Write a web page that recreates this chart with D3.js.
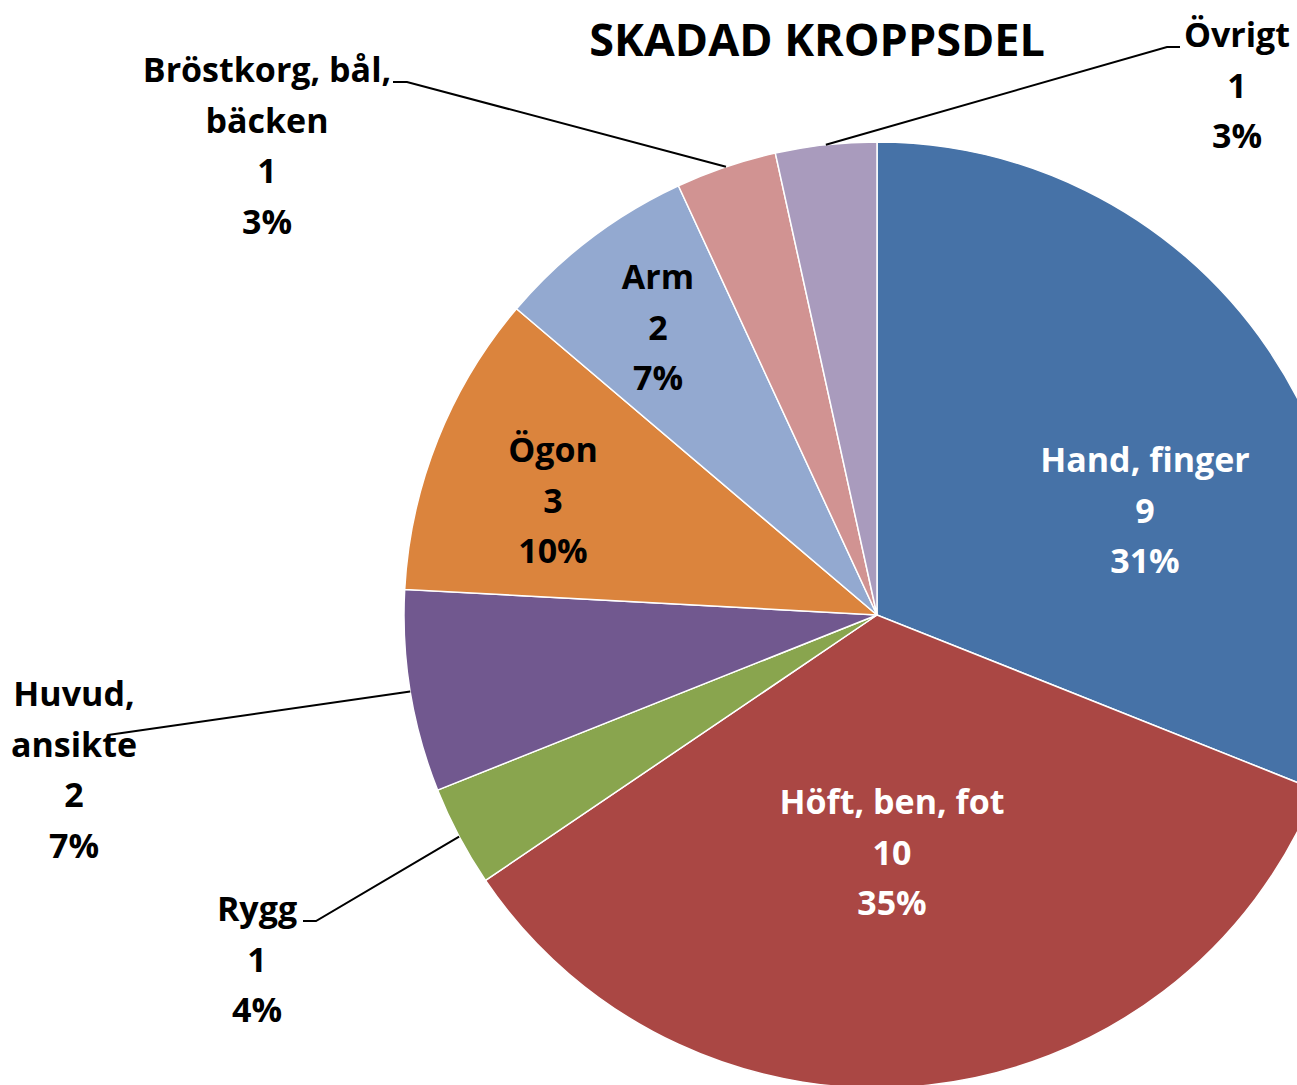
<!DOCTYPE html>
<html>
<head>
<meta charset="utf-8">
<script src="https://cdn.jsdelivr.net/npm/d3@7"></script>
<style>
  body { margin: 0; background: #fff; }
  text { font-family: "Open Sans", "DejaVu Sans", sans-serif; font-weight: bold; }
</style>
</head>
<body>
<div id="chart"></div>
<script>
// data
var categories = ["Hand, finger", "Höft, ben, fot", "Rygg", "Huvud, ansikte", "Ögon", "Arm", "Bröstkorg, bål, bäcken", "Övrigt"];
var values = [9, 10, 1, 2, 3, 2, 1, 1];
var percents = ["31%", "35%", "4%", "7%", "10%", "7%", "3%", "3%"];
var labelLines = [["Hand, finger"], ["Höft, ben, fot"], ["Rygg"], ["Huvud,", "ansikte"], ["Ögon"], ["Arm"], ["Bröstkorg, bål,", "bäcken"], ["Övrigt"]];
var colors = ["#4672A7", "#AA4744", "#89A54E", "#71588F", "#DB843D", "#93A9D0", "#D19392", "#A99BBD"];

var W = 1297, H = 1085;
var cx = 877, cy = 615, R = 473;

// label layout: center x, first baseline, text colour, leader (elbow) or null
var layout = [
  { x: 1145, y: 472, fill: "#fff" },
  { x: 892, y: 814, fill: "#fff" },
  { x: 257, y: 921, fill: "#000", lead: [[303, 921], [316, 921]] },
  { x: 74, y: 706, fill: "#000", lead: [[108, 735]] },
  { x: 553, y: 462, fill: "#000" },
  { x: 658, y: 289, fill: "#000" },
  { x: 267, y: 82, fill: "#000", lead: [[393, 82], [407, 82]] },
  { x: 1237, y: 47, fill: "#000", lead: [[1180, 47], [1167, 47]] }
];

var svg = d3.select('#chart').append('svg')
  .attr('width', W)
  .attr('height', H);

svg.append('rect')
  .attr('width', W)
  .attr('height', H)
  .attr('fill', 'white');

var pie = d3.pie().sort(null).value(function (d) { return d; });
var arcs = pie(values);
var arc = d3.arc().innerRadius(0).outerRadius(R);

var g = svg.append('g').attr('transform', 'translate(' + cx + ',' + cy + ')');

g.selectAll('path.slice')
  .data(arcs)
  .enter().append('path')
  .attr('class', 'slice')
  .attr('d', arc)
  .attr('fill', function (d, i) { return colors[i]; })
  .attr('stroke', '#fff')
  .attr('stroke-width', 1.5);

// leader lines
arcs.forEach(function (d, i) {
  var L = layout[i];
  if (!L.lead) return;
  var mid = (d.startAngle + d.endAngle) / 2;
  var end = [cx + R * Math.sin(mid), cy - R * Math.cos(mid)];
  var pts = L.lead.concat([end]);
  svg.append('path')
    .attr('d', d3.line()(pts))
    .attr('fill', 'none')
    .attr('stroke', '#000')
    .attr('stroke-width', 2);
});

// labels
var fs = 34, lh = 50.5;
arcs.forEach(function (d, i) {
  var L = layout[i];
  var lines = labelLines[i].concat([String(values[i]), percents[i]]);
  var t = svg.append('text')
    .attr('text-anchor', 'middle')
    .attr('font-size', fs)
    .attr('fill', L.fill);
  lines.forEach(function (s, k) {
    t.append('tspan')
      .attr('x', L.x)
      .attr('y', L.y + k * lh)
      .text(s);
  });
});

// title
svg.append('text')
  .attr('x', 817)
  .attr('y', 56)
  .attr('text-anchor', 'middle')
  .attr('font-size', 45)
  .attr('fill', '#000')
  .text('SKADAD KROPPSDEL');
</script>
</body>
</html>
